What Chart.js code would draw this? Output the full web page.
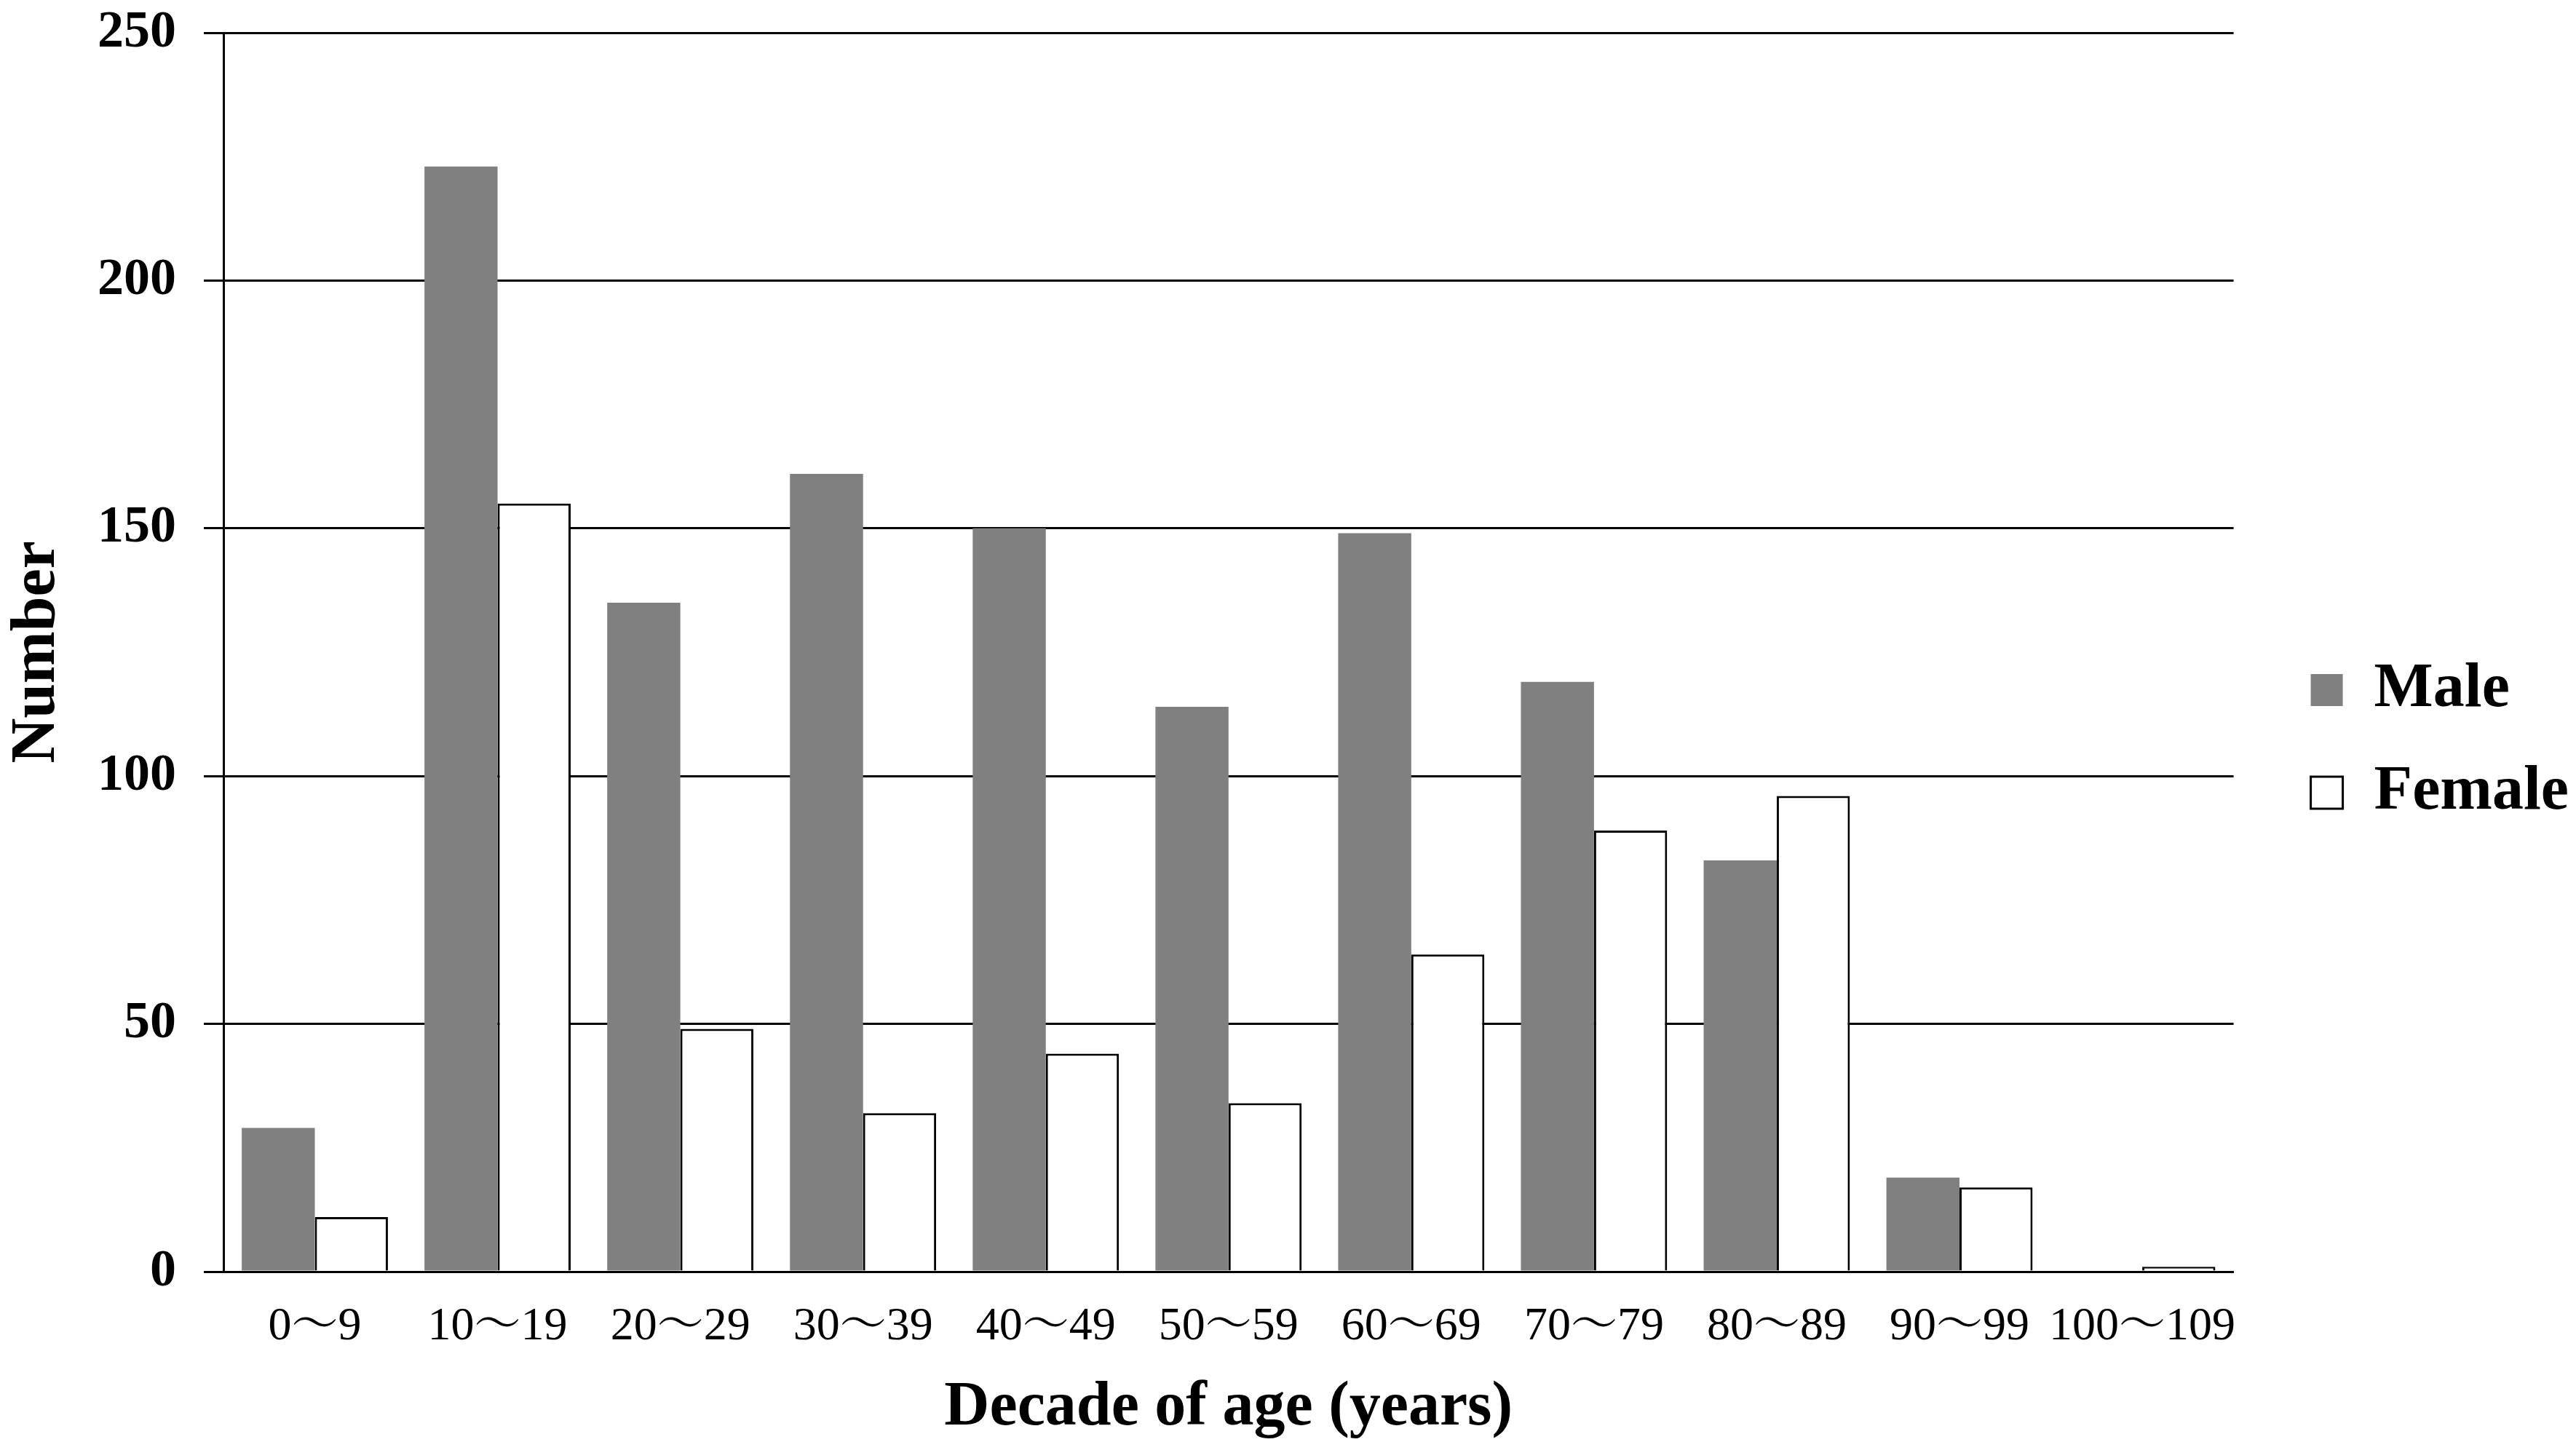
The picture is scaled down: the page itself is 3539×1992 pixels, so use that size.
<!DOCTYPE html>
<html>
<head>
<meta charset="utf-8">
<script src="https://cdn.jsdelivr.net/npm/chart.js@4"></script>
<style>
  html, body { margin: 0; padding: 0; background: #fff; }
  #wrap { width: 3539px; height: 1992px; position: relative; }
</style>
</head>
<body>
<div id="wrap"><canvas id="myChart"></canvas></div>
<script>
var categories = ['0～9', '10～19', '20～29', '30～39', '40～49', '50～59', '60～69', '70～79', '80～89', '90～99', '100～109'];
var male = [29, 223, 135, 161, 150, 114, 149, 119, 83, 19, 0];
var female = [11, 155, 49, 32, 44, 34, 64, 89, 96, 17, 1];
var yTicks = [0, 50, 100, 150, 200, 250];

var serif = "'Liberation Serif', 'Times New Roman', 'Noto Serif CJK JP', 'Noto Sans CJK JP', serif";

// fixed axis box sizes, no extra label padding above the plot
function fixVertical(w) {
    return function (s) {
        s.width = w;
        s.paddingTop = 0;
        s.paddingBottom = 0;
    };
}

var ctx = document.getElementById('myChart').getContext('2d');
var myChart = new Chart(ctx, {
    type: 'bar',
    data: {
        labels: categories,
        datasets: [{
            label: 'Male',
            data: male,
            backgroundColor: '#808080',
            borderWidth: 0,
            categoryPercentage: 0.8,
            barPercentage: 1.0
        }, {
            label: 'Female',
            data: female,
            backgroundColor: '#ffffff',
            borderColor: '#000000',
            borderWidth: 3,
            categoryPercentage: 0.8,
            barPercentage: 1.0
        }]
    },
    options: {
        responsive: true,
        maintainAspectRatio: false,
        animation: false,
        layout: {
            padding: { top: 45, left: 0, right: 0, bottom: 0 }
        },
        scales: {
            x: {
                grid: { display: false, drawTicks: false },
                border: { display: true, color: '#000', width: 3 },
                ticks: {
                    color: '#000',
                    padding: 38,
                    maxRotation: 0,
                    autoSkip: false,
                    font: { family: serif, size: 64 }
                },
                title: {
                    display: true,
                    text: 'Decade of age (years)',
                    color: '#000',
                    padding: { top: 0, bottom: 6 },
                    font: { family: serif, size: 86, weight: 'bold' }
                },
                afterFit: function (s) { s.height = 245; }
            },
            y: {
                min: 0,
                max: 250,
                afterBuildTicks: function (s) {
                    s.ticks = yTicks.map(function (v) { return { value: v }; });
                },
                grid: { color: '#000', lineWidth: 3, tickLength: 27 },
                border: { display: true, color: '#000', width: 3 },
                ticks: {
                    color: '#000',
                    padding: 38,
                    font: { family: serif, size: 72, weight: 'bold' }
                },
                title: {
                    display: true,
                    text: 'Number',
                    color: '#000',
                    padding: { top: 0, bottom: 0 },
                    font: { family: serif, size: 86, weight: 'bold' }
                },
                afterFit: fixVertical(307)
            },
            spacer: {
                type: 'linear',
                position: 'right',
                display: true,
                grid: { display: false, drawTicks: false },
                border: { display: false },
                ticks: { display: false },
                afterFit: fixVertical(51)
            }
        },
        plugins: {
            tooltip: { enabled: false },
            legend: {
                position: 'right',
                align: 'center',
                labels: {
                    color: '#000',
                    boxWidth: 44,
                    boxHeight: 44,
                    padding: 55,
                    font: { family: serif, size: 86, weight: 'bold' }
                }
            }
        }
    }
});
</script>
</body>
</html>
